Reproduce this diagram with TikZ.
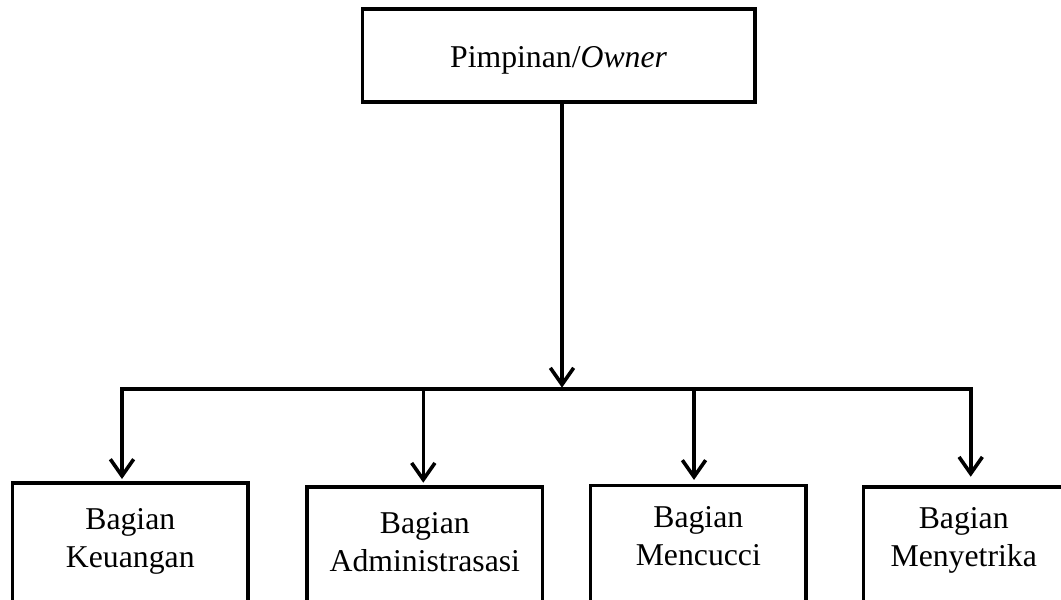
\documentclass[tikz,border=0pt]{standalone}
\usepackage{fontspec}
\setmainfont{Liberation Serif}
\usetikzlibrary{arrows.meta}
\begin{document}
\begin{tikzpicture}[x=0.75pt,y=-0.75pt,
  line/.style={line width=2.7pt},
  tipv/.tip={Straight Barb[length=12.5pt,width=17.5pt]},
  arr/.style={line,-tipv},
  topbox/.style={draw,line width=2.7pt,rectangle,minimum width=294.15pt,minimum height=69.75pt,inner sep=0pt},
  unitbox/.style={draw,line width=2.7pt,rectangle,anchor=north,minimum height=130pt,inner sep=0pt},
  lbl/.style={font=\fontsize{23.8}{28.5}\selectfont,align=center,inner sep=0pt}]
\useasboundingbox (0,0) rectangle (1061,600);
\clip (0,0) rectangle (1061,600);
% top box
\node[topbox] (top) at (558.6,55.5) {};
\node[lbl] (toptext) at (558.6,60.5) {Pimpinan/\textit{Owner}};
% unit boxes
\node[unitbox,minimum width=176.5pt] (b1) at (130.3,481) {};
\node[unitbox,minimum width=176.8pt] (b2) at (424.8,485) {};
\node[unitbox,minimum width=161.5pt] (b3) at (698.3,483.7) {};
\node[unitbox,minimum width=150.5pt] (b4) at (963.7,485) {};
\node[lbl] (t1) at (130.3,541) {Bagian\\Keuangan};
\node[lbl] (t2) at (424.8,542.5) {Bagian\\Administrasasi};
\node[lbl] (t3) at (698.3,536) {Bagian\\Mencucci};
\node[lbl] (t4) at (963.7,540.5) {Bagian\\Menyetrika};
% connectors
\coordinate (j) at (562,389);
\coordinate (hl) at (122,389);
\coordinate (hr) at (970.7,389);
\coordinate (d2) at (423.3,389);
\coordinate (d3) at (694,389);
\draw[arr,shorten >=1pt] (top.south -| j) -- (j);
\draw[line,tipv-tipv,shorten <=6.2pt,shorten >=1.5pt] (hr |- b4.north) -- (hr) -- (hl) -- (hl |- b1.north);
\draw[arr,shorten >=1.7pt] (d2) -- (d2 |- b2.north);
\draw[arr,shorten >=2.8pt] (d3) -- (d3 |- b3.north);
\end{tikzpicture}
\end{document}
